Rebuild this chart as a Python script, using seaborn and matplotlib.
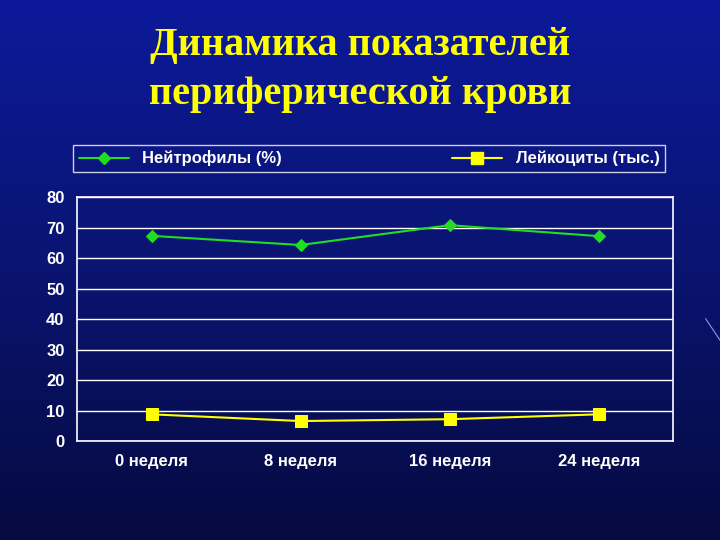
import numpy as np
import pandas as pd
import seaborn as sns
import matplotlib.pyplot as plt
from matplotlib.lines import Line2D

weeks = ['0 неделя', '8 неделя', '16 неделя', '24 неделя']
neutro = [67.3, 64.3, 70.8, 67.2]
leuko = [8.8, 6.6, 7.2, 8.8]

sns.set_theme(style='white')
plt.rcParams['font.family'] = ['Liberation Sans', 'DejaVu Sans']

fig = plt.figure(figsize=(7.2, 5.4), dpi=100)
# background gradient
bg = fig.add_axes([0, 0, 1, 1])
grad = np.linspace(0, 1, 256)[:, None] * np.ones((1, 256))
bg.imshow(grad, cmap=plt.matplotlib.colors.LinearSegmentedColormap.from_list(
    'b', ['#0c1a9a', '#0a1470', '#050a40']), aspect='auto', extent=[0, 1, 0, 1])
bg.plot([0.98, 1.0], [0.41, 0.37], color='#8899dd', lw=0.8)
bg.set_xlim(0, 1); bg.set_ylim(0, 1)
bg.axis('off')

fig.text(0.5, 0.915, 'Динамика показателей', ha='center', va='center',
         color='#ffff00', fontsize=29, fontweight='bold', family='Liberation Serif')
fig.text(0.5, 0.825, 'периферической крови', ha='center', va='center',
         color='#ffff00', fontsize=29, fontweight='bold', family='Liberation Serif')

ax = fig.add_axes([0.107, 0.183, 0.828, 0.452])
ax.patch.set_alpha(0)
df = pd.DataFrame({'week': weeks, 'n': neutro, 'l': leuko})
sns.lineplot(data=df, x='week', y='n', ax=ax, color='#22dd22', marker='D',
             markersize=6, markeredgecolor='#22dd22', lw=1.5, sort=False)
sns.lineplot(data=df, x='week', y='l', ax=ax, color='#ffff00', marker='s',
             markersize=8, markeredgecolor='#ffff00', lw=1.5, sort=False)
ax.set_xlim(-0.5, 3.5)
ax.set_ylim(0, 80)
ax.set_yticks(range(0, 81, 10))
ax.grid(axis='y', color='white', lw=1)
ax.set_xlabel(''); ax.set_ylabel('')
for s in ax.spines.values():
    s.set_color('white'); s.set_linewidth(1.2)
ax.tick_params(colors='white', labelsize=12, length=0, pad=9)
for t in ax.get_xticklabels() + ax.get_yticklabels():
    t.set_fontweight('bold'); t.set_color('white')

handles = [Line2D([], [], color='#22dd22', marker='D', markersize=6, lw=1.5),
           Line2D([], [], color='#ffff00', marker='s', markersize=8, lw=1.5)]
leg = fig.legend(handles, ['Нейтрофилы (%)', 'Лейкоциты (тыс.)'], ncol=2,
                 loc='lower left', bbox_to_anchor=(0.101, 0.681, 0.823, 0.054),
                 mode='expand', frameon=True, borderaxespad=0,
                 fancybox=False, handlelength=3, borderpad=0.35,
                 prop={'weight': 'bold', 'size': 12})
leg.get_frame().set_facecolor('none')
leg.get_frame().set_edgecolor('white')
for t in leg.get_texts():
    t.set_color('white')

fig.savefig('out.png', dpi=100)
